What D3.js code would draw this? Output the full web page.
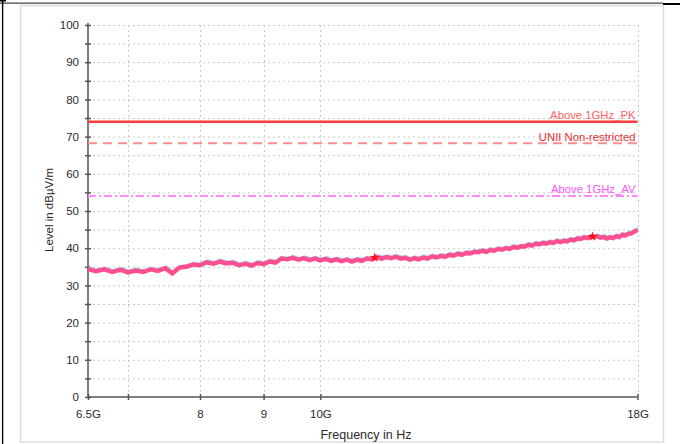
<!DOCTYPE html>
<html>
<head>
<meta charset="utf-8">
<script src="https://cdn.jsdelivr.net/npm/d3@7"></script>
<style>
  html, body { margin: 0; padding: 0; background: #fff; }
  svg { display: block; }
  text { font-family: "Liberation Sans", Arial, sans-serif; }
</style>
</head>
<body>
<svg id="chart" width="680" height="444"></svg>
<script>
// ---- Data ----
const freqGHz = [
  6.5, 6.6, 6.7, 6.8, 6.9, 7.0, 7.1, 7.2, 7.3, 7.4, 7.5, 7.6, 7.7, 7.8, 7.9,
  8.0, 8.1, 8.2, 8.3, 8.4, 8.5, 8.6, 8.7, 8.8, 8.9, 9.0, 9.1, 9.2, 9.3, 9.4,
  9.5, 9.6, 9.7, 9.8, 9.9, 10.0, 10.1, 10.2, 10.3, 10.4, 10.5, 10.6, 10.7, 10.8, 10.9,
  11.0, 11.1, 11.2, 11.3, 11.4, 11.5, 11.6, 11.7, 11.8, 11.9, 12.0, 12.1, 12.2, 12.3, 12.4,
  12.5, 12.6, 12.7, 12.8, 12.9, 13.0, 13.1, 13.2, 13.3, 13.4, 13.5, 13.6, 13.7, 13.8, 13.9,
  14.0, 14.1, 14.2, 14.3, 14.4, 14.5, 14.6, 14.7, 14.8, 14.9, 15.0, 15.1, 15.2, 15.3, 15.4,
  15.5, 15.6, 15.7, 15.8, 15.9, 16.0, 16.1, 16.2, 16.3, 16.4, 16.5, 16.6, 16.7, 16.8, 16.9,
  17.0, 17.1, 17.2, 17.3, 17.4, 17.5, 17.6, 17.7, 17.8, 17.9, 18.0
];
const levelDbuV = [
  34.4, 33.8, 34.3, 33.6, 34.2, 33.5, 34.0, 33.6, 34.3, 33.9, 34.6, 33.2, 34.8, 35.0, 35.6,
  35.4, 36.2, 35.8, 36.4, 35.9, 36.1, 35.4, 35.8, 35.3, 36.0, 35.7, 36.4, 36.1, 37.2, 37.0,
  37.4, 36.9, 37.3, 36.8, 37.2, 36.7, 37.1, 36.6, 37.0, 36.5, 36.9, 36.4, 36.9, 36.6, 37.2,
  37.0, 37.6, 37.2, 37.6, 37.3, 37.7, 37.2, 37.4, 36.9, 37.3, 37.0, 37.5, 37.2, 37.8, 37.5,
  37.9, 37.7, 38.2, 38.0, 38.5, 38.2, 38.7, 38.6, 39.0, 38.9, 39.3, 39.0, 39.5, 39.3, 39.8,
  39.6, 40.0, 39.8, 40.3, 40.1, 40.5, 40.4, 40.9, 40.7, 41.2, 41.0, 41.4, 41.2, 41.6, 41.4,
  41.9, 41.6, 42.0, 41.8, 42.3, 42.1, 42.6, 42.5, 42.9, 42.7, 43.1, 43.0, 43.2, 42.8, 43.0,
  42.6, 42.9, 42.7, 43.2, 43.0, 43.6, 43.4, 43.9, 44.0, 44.5, 44.9
];
const markerFreq = [11.06, 16.56];
const markerLevel = [37.5, 43.1];

const limitNames = ["Above 1GHz_PK", "UNII Non-restricted", "Above 1GHz_AV"];
const limitLevels = [74, 68.2, 54];

const yTicks = [0,5,10,15,20,25,30,35,40,45,50,55,60,65,70,75,80,85,90,95,100];
const xTicks = [6.5, 7, 8, 9, 10, 18];
const xTickLabels = ["6.5G", "", "8", "9", "10G", "18G"];
const xGrid = [7, 8, 9, 10, 18];

// ---- Layout ----
const svg = d3.select("#chart");
const x = d3.scaleLog().domain([6.5, 18]).range([88, 637.5]);
const y = d3.scaleLinear().domain([0, 100]).range([397, 25]);

// frame
svg.append("rect").attr("x", 20.5).attr("y", 5.5).attr("width", 643).attr("height", 436.5)
  .attr("fill", "#fff").attr("stroke", "#dcdcdc").attr("stroke-width", 1.5);
svg.append("line").attr("x1", 0).attr("x2", 663).attr("y1", 3.2).attr("y2", 3.2)
  .attr("stroke", "#444").attr("stroke-width", 1.3);
svg.append("line").attr("x1", 663).attr("x2", 680).attr("y1", 4).attr("y2", 4)
  .attr("stroke", "#000").attr("stroke-width", 2);
svg.append("line").attr("x1", 2.6).attr("x2", 2.6).attr("y1", 0).attr("y2", 444)
  .attr("stroke", "#000").attr("stroke-width", 1.4);
svg.append("rect").attr("x", 0).attr("y", 0).attr("width", 6).attr("height", 1.5).attr("fill", "#000");

// grid
const grid = svg.append("g");
grid.selectAll("line.h").data(yTicks.filter(d => d > 0)).join("line")
  .attr("x1", x(6.5)).attr("x2", x(18))
  .attr("y1", d => y(d) + 0.5).attr("y2", d => y(d) + 0.5)
  .attr("stroke", "#c8c8c8").attr("stroke-width", 1).attr("stroke-dasharray", "2,3");
grid.selectAll("line.v").data(xGrid).join("line")
  .attr("x1", d => Math.round(x(d)) + 0.5).attr("x2", d => Math.round(x(d)) + 0.5)
  .attr("y1", y(100)).attr("y2", y(0))
  .attr("stroke", "#c8c8c8").attr("stroke-width", 1).attr("stroke-dasharray", "2,3");

// axes
const yAxis = d3.axisLeft(y).tickValues(yTicks).tickSize(3).tickPadding(6)
  .tickFormat(d => d % 10 === 0 ? String(d) : "");
const gy = svg.append("g").attr("transform", `translate(${x(6.5)},0)`).call(yAxis);
gy.select(".domain").attr("stroke", "#555").attr("stroke-width", 1.5).attr("d", `M0,${y(100) - 2}V${y(0)}`);
gy.selectAll(".tick line").attr("x1", 3).attr("x2", -3).attr("stroke", "#555").attr("stroke-width", 1.5);
gy.selectAll(".tick text").attr("font-size", 11.5).attr("fill", "#2a2a2a");

const xAxis = d3.axisBottom(x).tickValues(xTicks).tickSize(3).tickPadding(10)
  .tickFormat((d, i) => xTickLabels[i]);
const gx = svg.append("g").attr("transform", `translate(0,${y(0)})`).call(xAxis);
gx.select(".domain").attr("stroke", "#555").attr("stroke-width", 1.5).attr("d", `M${x(6.5)},0H${x(18)}`);
gx.selectAll(".tick line").attr("y1", -3).attr("y2", 3).attr("stroke", "#555").attr("stroke-width", 1.5);
gx.selectAll(".tick text").attr("font-size", 11.5).attr("fill", "#2a2a2a");

// axis titles
svg.append("text").attr("x", 366).attr("y", 439).attr("text-anchor", "middle")
  .attr("font-size", 12.5).attr("fill", "#2a2a2a").text("Frequency in Hz");
svg.append("text").attr("transform", "translate(53,210) rotate(-90)").attr("text-anchor", "middle")
  .attr("font-size", 11.5).attr("fill", "#2a2a2a").text("Level in dBµV/m");

// limit lines
const limitStroke = ["#ff3b3b", "#ff8c8c", "#ff88ff"];
const limitWidth = [2.6, 2, 2];
const limitDash = [null, "9,6", "8,3,2,3"];
const limitText = ["#ff6262", "#e83030", "#ff55ff"];
const limitLabelDy = [-2.5, -2.5, -2.8];
limitLevels.forEach((lv, i) => {
  svg.append("line").attr("x1", x(6.5)).attr("x2", x(18)).attr("y1", y(lv)).attr("y2", y(lv))
    .attr("stroke", limitStroke[i]).attr("stroke-width", limitWidth[i])
    .attr("stroke-dasharray", limitDash[i]);
  svg.append("text").attr("x", x(18) - 2).attr("y", y(lv) + limitLabelDy[i])
    .attr("text-anchor", "end").attr("font-size", 11.3).attr("fill", limitText[i])
    .text(limitNames[i]);
});

// trace
const pts = freqGHz.map((f, i) => [f, levelDbuV[i]]);
const line = d3.line().x(d => x(d[0])).y(d => y(d[1]));
svg.append("path").datum(pts).attr("d", line).attr("fill", "none")
  .attr("stroke", "#a8cdf2").attr("stroke-width", 3.4).attr("stroke-linejoin", "miter")
  .attr("transform", "translate(0.8,-1.2)");
svg.append("path").datum(pts).attr("d", line).attr("fill", "none")
  .attr("stroke", "#ff4f8e").attr("stroke-width", 4.4).attr("stroke-linejoin", "miter");

// markers
const star = d3.symbol().type(d3.symbolStar).size(30);
svg.selectAll("path.mk").data(markerFreq).join("path")
  .attr("transform", (d, i) => `translate(${x(d)},${y(markerLevel[i])})`)
  .attr("d", star).attr("fill", "#ff1010");
</script>
</body>
</html>
